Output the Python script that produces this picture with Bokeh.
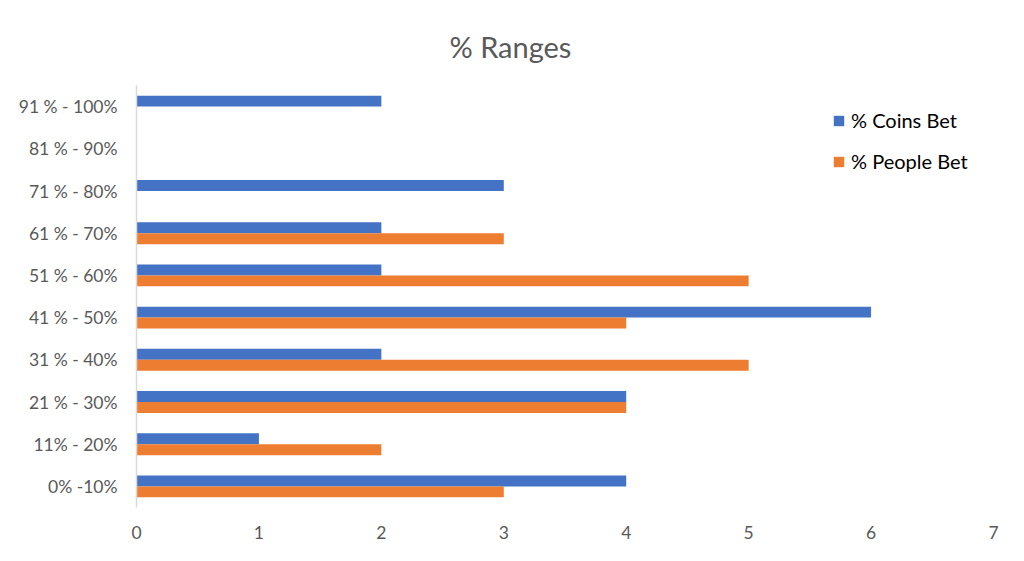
from bokeh.plotting import figure
from bokeh.models import ColumnDataSource, FactorRange, Legend, LegendItem, FixedTicker
from bokeh.transform import dodge
from bokeh.embed import file_html
from bokeh.resources import INLINE

categories = ["0% -10%", "11% - 20%", "21 % - 30%", "31 % - 40%", "41 % - 50%",
              "51 % - 60%", "61 % - 70%", "71 % - 80%", "81 % - 90%", "91 % - 100%"]
coins_bet = [4, 1, 4, 2, 6, 2, 2, 3, 0, 2]
people_bet = [3, 2, 4, 5, 4, 5, 3, 0, 0, 0]
x_ticks = [0, 1, 2, 3, 4, 5, 6, 7]

FONT = "Lato"
GREY = "#595959"

src = ColumnDataSource(dict(cat=categories, coins=coins_bet, people=people_bet))

p = figure(width=1008, height=545, y_range=FactorRange(*categories, range_padding=0.0),
           x_range=(0, 7), output_backend="svg", toolbar_location=None,
           min_border_left=136, min_border_right=15, min_border_top=85, min_border_bottom=38)
p.y_range.range_padding = 0
p.y_range.factor_padding = 0

r1 = p.hbar(y=dodge("cat", 0.13, range=p.y_range), right="coins", left=0, height=0.26,
            source=src, color="#4472C4", line_color=None)
r2 = p.hbar(y=dodge("cat", -0.13, range=p.y_range), right="people", left=0, height=0.26,
            source=src, color="#ED7D31", line_color=None)

p.title.text = "% Ranges"
p.title.align = "left"
p.title.vertical_align = "top"
p.title.text_font = FONT
p.title.text_font_size = "29px"
p.title.text_font_style = "normal"
p.title.text_color = GREY
p.title.offset = 313
p.title.standoff = 40

p.xgrid.visible = False
p.ygrid.visible = False
p.outline_line_color = None

p.xaxis.ticker = FixedTicker(ticks=x_ticks)
p.xaxis.axis_line_color = None
p.xaxis.major_tick_line_color = None
p.xaxis.minor_tick_line_color = None
p.xaxis.major_label_text_font = FONT
p.xaxis.major_label_text_font_size = "17.5px"
p.xaxis.major_label_text_color = GREY
p.xaxis.major_label_standoff = 12

p.yaxis.axis_line_color = "#D9D9D9"
p.yaxis.axis_line_width = 1.5
p.yaxis.major_tick_line_color = None
p.yaxis.minor_tick_line_color = None
p.yaxis.major_label_text_font = FONT
p.yaxis.major_label_text_font_size = "17.5px"
p.yaxis.major_label_text_color = GREY
p.yaxis.major_label_standoff = 13

legend = Legend(items=[LegendItem(label="% Coins Bet", renderers=[r1]),
                       LegendItem(label="% People Bet", renderers=[r2])],
                location=(696, 334), orientation="vertical")
legend.border_line_color = None
legend.background_fill_alpha = 0
legend.label_text_font = FONT
legend.label_text_font_size = "20px"
legend.label_text_color = "#000000"
legend.glyph_width = 13
legend.glyph_height = 13
legend.spacing = 17
legend.padding = 0
legend.margin = 0
legend.label_standoff = 6
p.add_layout(legend, "center")

open("out.html", "w").write(file_html(p, INLINE))
